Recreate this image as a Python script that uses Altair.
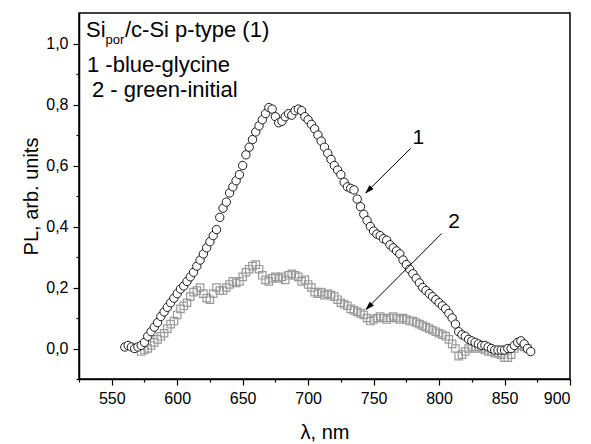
import altair as alt
import pandas as pd

# Series 1: blue-glycine (circles)
nm1 = [560, 562.5, 565, 567.5, 570, 572.5, 575, 577.5, 580, 582.5, 585, 587.5, 590, 592.5, 595, 597.5,
       600, 602.5, 605, 607.5, 610, 612.5, 615, 617.5, 620, 622.5, 625, 627.5, 630, 632.5, 635, 637.5,
       640, 642.5, 645, 647.5, 650, 652.5, 655, 657.5, 660, 662.5, 665, 667.5, 670, 672.5, 675, 677.5,
       680, 682.5, 685, 687.5, 690, 692.5, 695, 697.5, 700, 702.5, 705, 707.5, 710, 712.5, 715, 717.5,
       720, 722.5, 725, 727.5, 730, 732.5, 735, 737.5, 740, 742.5, 745, 747.5, 750, 752.5, 755, 757.5,
       760, 762.5, 765, 767.5, 770, 772.5, 775, 777.5, 780, 782.5, 785, 787.5, 790, 792.5, 795, 797.5,
       800, 802.5, 805, 807.5, 810, 812.5, 815, 817.5, 820, 822.5, 825, 827.5, 830, 832.5, 835, 837.5,
       840, 842.5, 845, 847.5, 850, 852.5, 855, 857.5, 860, 862.5, 865, 867.5, 870]
pl1 = [0.005, 0.01, 0.005, 0.0, 0.005, 0.01, 0.02, 0.04, 0.055, 0.07, 0.085, 0.105, 0.12, 0.135, 0.15, 0.165,
       0.18, 0.195, 0.205, 0.22, 0.235, 0.25, 0.27, 0.29, 0.31, 0.33, 0.35, 0.37, 0.39, 0.43, 0.46, 0.48,
       0.51, 0.53, 0.55, 0.57, 0.60, 0.635, 0.66, 0.685, 0.71, 0.73, 0.75, 0.77, 0.79, 0.785, 0.76, 0.74,
       0.745, 0.76, 0.77, 0.765, 0.78, 0.785, 0.78, 0.76, 0.75, 0.735, 0.72, 0.70, 0.68, 0.66, 0.64, 0.62,
       0.60, 0.585, 0.57, 0.545, 0.53, 0.525, 0.52, 0.49, 0.465, 0.44, 0.42, 0.40, 0.385, 0.375, 0.37, 0.36,
       0.355, 0.34, 0.33, 0.32, 0.31, 0.29, 0.275, 0.26, 0.245, 0.23, 0.215, 0.20, 0.19, 0.18, 0.17, 0.16,
       0.15, 0.14, 0.13, 0.115, 0.10, 0.08, 0.055, 0.045, 0.04, 0.03, 0.025, 0.02, 0.015, 0.01, 0.01, 0.005,
       0.0, -0.005, -0.005, -0.005, -0.005, 0.0, 0.0, 0.01, 0.02, 0.025, 0.015, 0.0, -0.01]

# Series 2: green-initial (squares)
nm2 = [572.5, 575, 577.5, 580, 582.5, 585, 587.5, 590, 592.5, 595, 597.5, 600, 602.5, 605, 607.5, 610,
       612.5, 615, 617.5, 620, 622.5, 625, 627.5, 630, 632.5, 635, 637.5, 640, 642.5, 645, 647.5, 650,
       652.5, 655, 657.5, 660, 662.5, 665, 667.5, 670, 672.5, 675, 677.5, 680, 682.5, 685, 687.5, 690,
       692.5, 695, 697.5, 700, 702.5, 705, 707.5, 710, 712.5, 715, 717.5, 720, 722.5, 725, 727.5, 730,
       732.5, 735, 737.5, 740, 742.5, 745, 747.5, 750, 752.5, 755, 757.5, 760, 762.5, 765, 767.5, 770,
       772.5, 775, 777.5, 780, 782.5, 785, 787.5, 790, 792.5, 795, 797.5, 800, 802.5, 805, 807.5, 810,
       812.5, 815, 817.5, 820, 822.5, 825, 827.5, 830, 832.5, 835, 837.5, 840, 842.5, 845, 847.5, 850,
       852.5, 855, 857.5, 860, 862.5, 865, 867.5]
pl2 = [-0.01, -0.005, 0.0, 0.01, 0.02, 0.03, 0.04, 0.05, 0.065, 0.08, 0.09, 0.11, 0.13, 0.14, 0.15, 0.17,
       0.185, 0.19, 0.20, 0.18, 0.165, 0.16, 0.18, 0.20, 0.19, 0.19, 0.20, 0.21, 0.22, 0.215, 0.22, 0.235,
       0.25, 0.26, 0.27, 0.275, 0.26, 0.24, 0.225, 0.22, 0.23, 0.235, 0.23, 0.235, 0.225, 0.24, 0.245, 0.24,
       0.235, 0.22, 0.225, 0.21, 0.20, 0.185, 0.18, 0.185, 0.175, 0.18, 0.175, 0.17, 0.16, 0.15, 0.145, 0.14,
       0.13, 0.125, 0.12, 0.115, 0.11, 0.10, 0.09, 0.095, 0.10, 0.105, 0.10, 0.095, 0.10, 0.105, 0.10, 0.095,
       0.10, 0.095, 0.09, 0.09, 0.085, 0.08, 0.075, 0.07, 0.065, 0.06, 0.055, 0.05, 0.045, 0.04, 0.03, 0.015,
       0.0, -0.025, -0.02, -0.01, 0.0, 0.005, 0.0, 0.005, 0.0, -0.005, -0.01, -0.01, -0.015, -0.015, -0.02, -0.03,
       -0.03, -0.02, 0.0, 0.01, 0.01, 0.005, 0.0]

x_ticks = [525, 550, 575, 600, 625, 650, 675, 700, 725, 750, 775, 800, 825, 850, 875, 900]
y_ticks = [-0.1, 0.0, 0.1, 0.2, 0.3, 0.4, 0.5, 0.6, 0.7, 0.8, 0.9, 1.0]

# Arrow annotations (data coordinates): start, tip, label
arrow_x = [778.3, 802.0]
arrow_y = [0.656, 0.377]
tip_x = [744.0, 744.2]
tip_y = [0.510, 0.128]
lab_x = [784.2, 811.4]
lab_y = [0.689, 0.415]
lab_text = ["1", "2"]

df1 = pd.DataFrame({"nm": nm1, "pl": pl1})
df2 = pd.DataFrame({"nm": nm2, "pl": pl2})
dfa = pd.DataFrame({"nm": arrow_x, "pl": arrow_y, "nm_b": tip_x, "pl_b": tip_y})
dft = pd.DataFrame({"nm": lab_x, "pl": lab_y, "t": lab_text})
dfh = pd.DataFrame({"nm": tip_x, "pl": tip_y})

FONT = "Liberation Sans"

xscale = alt.Scale(domain=[525, 900], nice=False, zero=False)
yscale = alt.Scale(domain=[-0.1, 1.1], nice=False, zero=False)

xaxis = alt.Axis(
    values=x_ticks, title="λ, nm", grid=False,
    labelExpr="datum.value % 50 === 0 ? datum.label : ''",
    tickSize={"condition": {"test": "datum.value % 50 === 0", "value": 6}, "value": 3},
    labelPadding=5, titleY=53, titleBaseline="middle",
)
yaxis = alt.Axis(
    values=y_ticks, title="PL, arb. units", grid=False,
    labelExpr="abs(round(datum.value*10)) % 2 === 0 ? replace(format(datum.value, '.1f'), '.', ',') : ''",
    tickSize={"condition": {"test": "abs(round(datum.value*10)) % 2 === 0", "value": 6}, "value": 3},
    labelPadding=5, titleX=-48, titleBaseline="middle",
)

X = alt.X("nm:Q", scale=xscale, axis=xaxis)
Y = alt.Y("pl:Q", scale=yscale, axis=yaxis)

squares = alt.Chart(df2).mark_point(
    shape="square", filled=False, stroke="#9a9a9a", strokeWidth=1.2, size=55, opacity=1
).encode(x=X, y=Y)

circles = alt.Chart(df1).mark_point(
    shape="circle", fill="white", fillOpacity=1, stroke="#1a1a1a", strokeWidth=1, size=70, opacity=1
).encode(x=X, y=Y)

arrows = alt.Chart(dfa).mark_rule(color="black", strokeWidth=1).encode(
    x=X, y=Y, x2="nm_b:Q", y2="pl_b:Q",
)

heads = alt.Chart(dfh).mark_point(
    shape="M0,0 L-0.32,1 L0.32,1 Z", filled=True, fill="black", stroke="black",
    strokeWidth=0.5, size=256, angle=225, opacity=1
).encode(x=X, y=Y)

labels = alt.Chart(dft).mark_text(font=FONT, fontSize=21, color="black", align="center",
                                  baseline="middle").encode(x=X, y=Y, text="t:N")

def ptext(txt, x, y, size=22):
    return alt.Chart(pd.DataFrame({"t": [txt]})).mark_text(
        font=FONT, fontSize=size, color="black", align="left", baseline="alphabetic"
    ).encode(x=alt.value(x), y=alt.value(y), text="t:N")

t1a = ptext("Si", 7, 23.5)
t1b = ptext("por", 26.5, 31, 13)
t1c = ptext("/c-Si p-type (1)", 46, 23.5)
t2 = ptext("1 -blue-glycine", 8, 58.5)
t3 = ptext("2 - green-initial", 13, 83.5)

chart = alt.layer(squares, circles, arrows, heads, labels, t1a, t1b, t1c, t2, t3).properties(
    width=491, height=366,
    autosize=alt.AutoSizeParams(type="none"),
    padding={"left": 71, "top": 5, "right": 12, "bottom": 65},
).configure_view(
    stroke="black", strokeWidth=1.5
).configure_axis(
    labelFont=FONT, labelFontSize=16, labelColor="black",
    titleFont=FONT, titleFontSize=20, titleFontWeight="normal", titleColor="black",
    domainColor="black", domainWidth=1.5, tickColor="black", tickWidth=1.2,
)

chart.save("out.html", embed_options={"renderer": "svg", "actions": False})
